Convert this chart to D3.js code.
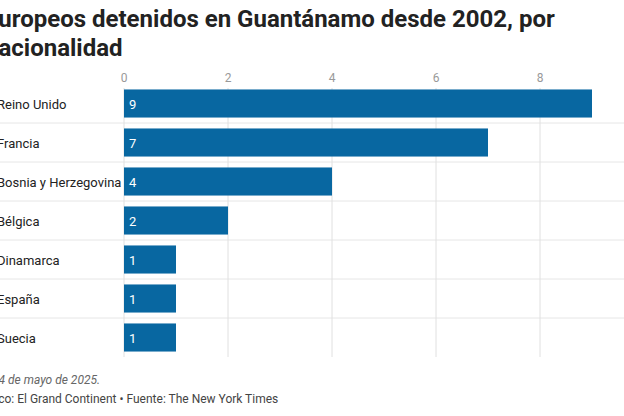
<!DOCTYPE html>
<html><head><meta charset="utf-8">
<script src="https://cdn.jsdelivr.net/npm/d3@7"></script>
<style>body{margin:0;background:#fff;font-family:Roboto,sans-serif}</style>
</head><body>
<svg width="624" height="416"></svg>
<script>
var countries = ["Reino Unido","Francia","Bosnia y Herzegovina","Bélgica","Dinamarca","España","Suecia"];
var detainees = [9,7,4,2,1,1,1];
var ticks = [0,2,4,6,8];

var svg = d3.select("svg");
var x = d3.scaleLinear().domain([0,9]).range([124,592]);
var y = d3.scaleBand().domain(countries).range([84,357]).paddingInner(0.28).paddingOuter(0.14);

svg.append("text").attr("x",-15).attr("y",27).attr("font-size",24).attr("font-weight",700).attr("fill","#222")
  .text("Europeos detenidos en Guantánamo desde 2002, por");
svg.append("text").attr("x",-15).attr("y",56).attr("font-size",24).attr("font-weight",700).attr("fill","#222")
  .text("nacionalidad");

// row separators
svg.selectAll("line.sep").data(countries.slice(1)).enter().append("line")
  .attr("x1",-5).attr("x2",624)
  .attr("y1",function(d){return y(d)-y.step()*y.paddingInner()/2;})
  .attr("y2",function(d){return y(d)-y.step()*y.paddingInner()/2;})
  .attr("stroke","#e6e6e6");

svg.selectAll("line.grid").data(ticks).enter().append("line")
  .attr("x1",x).attr("x2",x).attr("y1",88).attr("y2",357).attr("stroke","#e0e0e0");
svg.selectAll("text.tick").data(ticks).enter().append("text")
  .attr("x",x).attr("y",82).attr("text-anchor","middle").attr("font-size",12).attr("fill","#999").text(String);

svg.selectAll("rect.bar").data(detainees).enter().append("rect")
  .attr("x",x(0)).attr("y",function(d,i){return y(countries[i]);})
  .attr("width",function(d){return x(d)-x(0);}).attr("height",y.bandwidth()).attr("fill","#0867a1");
svg.selectAll("text.val").data(detainees).enter().append("text")
  .attr("x",x(0)+5).attr("y",function(d,i){return y(countries[i])+y.bandwidth()/2+5;})
  .attr("font-size",13).attr("fill","#fff").text(String);
svg.selectAll("text.lab").data(countries).enter().append("text")
  .attr("x",-3).attr("y",function(d){return y(d)+y.bandwidth()/2+5;})
  .attr("font-size",13).attr("fill","#222").text(String);

svg.append("text").attr("x",-8).attr("y",384).attr("font-size",12).attr("font-style","italic").attr("fill","#666")
  .text("14 de mayo de 2025.");
svg.append("text").attr("x",-27).attr("y",403).attr("font-size",12).attr("fill","#444")
  .text("Gráfico: El Grand Continent • Fuente: The New York Times");
</script>
</body></html>
